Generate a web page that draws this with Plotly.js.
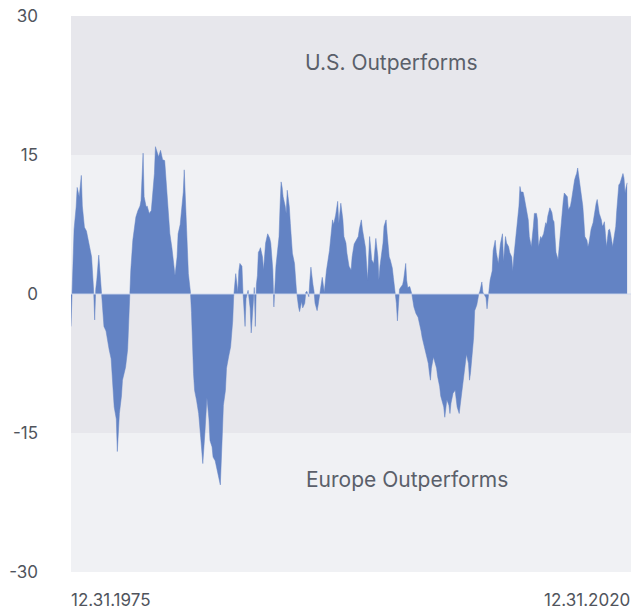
<!DOCTYPE html>
<html>
<head>
<meta charset="utf-8">
<script src="https://cdn.plot.ly/plotly-3.0.1.min.js"></script>
<style>html,body{margin:0;padding:0;background:#fff;}#chart{width:632px;height:612px;}</style>
</head>
<body>
<div id="chart"></div>
<script>
// Month-end observations (YYYY-MM) and relative performance, US vs Europe (%)
const dates = [
'1975-12','1976-01','1976-03','1976-05','1976-06','1976-08','1976-10','1976-11','1977-01','1977-03','1977-04','1977-06','1977-08','1977-10','1977-11','1977-12',
'1978-01','1978-03','1978-05','1978-06','1978-08','1978-10','1978-12','1979-01','1979-03','1979-04','1979-06','1979-08','1979-09','1979-11',
'1980-01','1980-02','1980-04','1980-05','1980-07','1980-09','1980-10','1980-12','1981-02','1981-03','1981-05','1981-07','1981-08','1981-10','1981-11',
'1982-01','1982-02','1982-04','1982-06','1982-07','1982-09','1982-10','1982-12','1983-01','1983-03','1983-05','1983-07','1983-09','1983-11','1983-12',
'1984-02','1984-03','1984-05','1984-07','1984-08','1984-10','1984-11','1985-01','1985-02','1985-03','1985-04','1985-05','1985-06','1985-08','1985-09','1985-11','1985-12',
'1986-02','1986-04','1986-06','1986-08','1986-10','1986-12','1987-02','1987-03','1987-05','1987-06','1987-08','1987-09','1987-11',
'1988-01','1988-03','1988-04','1988-06','1988-07','1988-09','1988-11','1989-01','1989-02','1989-04','1989-06','1989-07','1989-08','1989-10','1989-11',
'1990-01','1990-02','1990-04','1990-06','1990-07','1990-09','1990-10','1990-11','1990-12','1991-01','1991-02','1991-03','1991-04','1991-06','1991-07','1991-09','1991-10','1991-11',
'1992-01','1992-02','1992-04','1992-05','1992-07','1992-09','1992-10','1992-11','1992-12','1993-01','1993-02','1993-04','1993-05','1993-06','1993-08','1993-09','1993-11',
'1994-01','1994-03','1994-05','1994-06','1994-08','1994-09','1994-11','1994-12','1995-01','1995-03','1995-04','1995-05','1995-07','1995-08','1995-09','1995-11','1995-12',
'1996-02','1996-04','1996-06','1996-07','1996-08','1996-11','1996-12','1997-02','1997-03','1997-05','1997-07','1997-08','1997-10','1997-12',
'1998-01','1998-03','1998-04','1998-06','1998-08','1998-09','1998-11','1999-01','1999-03','1999-04','1999-06','1999-07','1999-09','1999-10','1999-12',
'2000-02','2000-03','2000-04','2000-06','2000-08','2000-10','2000-11','2000-12','2001-01','2001-03','2001-04','2001-06','2001-07','2001-08','2001-09','2001-10','2001-12',
'2002-01','2002-03','2002-04','2002-05','2002-06','2002-07','2002-08','2002-10','2002-11','2003-01','2003-02','2003-03','2003-05','2003-06','2003-07','2003-09','2003-11',
'2004-01','2004-03','2004-04','2004-05','2004-06','2004-07','2004-09','2004-11','2004-12','2005-01','2005-02','2005-04','2005-05','2005-07','2005-08','2005-10','2005-11','2005-12',
'2006-02','2006-03','2006-04','2006-05','2006-07','2006-08','2006-09','2006-11','2007-01','2007-03','2007-05','2007-06','2007-07','2007-09','2007-10','2007-12',
'2008-02','2008-03','2008-04','2008-05','2008-07','2008-08','2008-10','2008-12','2009-01','2009-03','2009-04','2009-06','2009-07','2009-08','2009-09','2009-10','2009-11',
'2010-01','2010-02','2010-04','2010-05','2010-07','2010-08','2010-09','2010-11','2010-12','2011-02','2011-03','2011-05','2011-06','2011-08','2011-09','2011-10','2011-11','2011-12',
'2012-01','2012-03','2012-04','2012-05','2012-07','2012-08','2012-09','2012-10','2012-12','2013-01','2013-02','2013-03','2013-05','2013-06','2013-08','2013-09','2013-10','2013-12',
'2014-01','2014-03','2014-05','2014-06','2014-07','2014-08','2014-09','2014-11','2014-12','2015-01','2015-02','2015-03','2015-05','2015-06','2015-07','2015-08','2015-09','2015-10','2015-11','2015-12',
'2016-02','2016-03','2016-05','2016-06','2016-07','2016-08','2016-09','2016-10','2016-11','2016-12','2017-01','2017-02','2017-03','2017-05','2017-06','2017-07','2017-09','2017-10','2017-11','2017-12',
'2018-01','2018-03','2018-04','2018-05','2018-06','2018-07','2018-08','2018-09','2018-11','2018-12','2019-01','2019-02','2019-03','2019-04','2019-05','2019-06','2019-07','2019-08','2019-10','2019-11',
'2020-01','2020-02','2020-03','2020-04','2020-05','2020-07','2020-08','2020-09','2020-10','2020-11','2020-12'
];
const values = [
-3.5,1.0,7.0,9.4,11.5,10.5,12.8,9.5,7.2,6.8,6.2,5.0,4.0,0.3,-2.8,0.5,
1.5,4.2,1.0,-0.5,-3.5,-4.0,-5.7,-6.0,-7.0,-8.5,-12.2,-13.5,-17.0,-12.9,
-11.0,-9.3,-8.5,-7.9,-6.0,-0.5,2.5,5.8,7.5,8.3,9.0,9.5,10.1,15.2,10.5,
9.4,9.5,8.7,9.0,10.5,13.0,15.9,15.2,14.8,15.5,14.5,14.4,11.2,9.0,6.5,
5.0,3.7,2.0,4.0,6.5,7.5,8.7,11.0,13.4,10.0,6.5,4.0,2.2,0.2,-2.0,-8.6,-10.4,
-11.5,-12.9,-15.5,-18.3,-15.0,-11.2,-13.5,-15.8,-16.5,-17.6,-18.0,-18.5,-19.4,
-20.6,-15.0,-12.0,-10.4,-8.0,-6.8,-5.7,-2.9,-0.3,2.2,0.2,2.5,3.3,3.0,0.2,
-3.5,-0.5,0.4,-1.5,-4.2,-1.0,0.7,-3.5,1.0,2.0,4.5,4.7,5.0,4.0,2.6,5.5,6.0,6.5,
6.0,5.5,2.6,-1.4,3.0,5.5,6.2,9.5,12.1,11.5,10.5,9.5,8.7,11.2,9.4,7.6,4.4,
3.3,0.3,-1.4,-1.9,-0.8,-1.5,-1.0,0.2,0.3,-0.3,1.5,2.9,1.0,0.3,-1.0,-1.8,-1.2,
0.2,1.8,0.2,1.5,2.5,4.7,6.0,8.0,7.5,8.5,10.0,7.6,9.8,8.0,
6.2,5.5,4.4,3.0,2.6,4.0,5.4,5.8,6.2,7.0,8.0,7.0,5.8,5.0,1.5,
6.2,5.0,3.7,3.3,6.0,4.0,1.5,3.0,4.0,5.5,7.3,8.0,6.5,4.7,4.0,3.7,2.8,
1.8,0.2,-1.0,-2.9,-0.5,0.5,0.7,1.0,1.5,3.3,1.5,0.7,0.8,0.5,0.0,-1.4,-2.1,
-2.5,-3.3,-4.0,-4.7,-5.2,-5.7,-6.5,-7.5,-8.5,-9.3,-8.0,-6.8,-7.2,-8.0,-8.9,-10.0,-11.0,-11.5,
-12.2,-13.3,-12.5,-11.4,-12.0,-12.9,-11.8,-10.7,-10.4,-12.2,-12.9,-12.0,-10.7,-9.0,-7.8,-6.5,
-7.5,-9.3,-8.5,-7.1,-4.7,-1.8,-1.2,0.0,0.3,1.3,0.2,-0.2,-0.4,-1.6,-0.5,0.0,1.5,
2.5,4.7,5.8,4.5,3.3,4.5,5.4,6.5,3.5,6.2,5.5,5.1,4.5,4.0,2.5,4.0,5.4,6.0,
7.3,9.5,11.6,11.0,11.0,10.5,9.8,9.5,8.0,6.2,5.5,5.1,7.3,8.7,8.7,8.0,5.1,6.2,
6.0,6.5,7.7,7.5,8.4,8.8,9.3,8.8,8.0,7.8,5.4,4.5,3.7,5.0,6.6,7.8,8.7,10.0,10.9,10.8,
10.5,9.1,9.5,10.1,11.0,11.9,12.3,12.7,13.0,13.6,12.8,12.3,11.0,9.5,8.0,6.2,5.8,5.1,5.5,6.2,
7.0,7.7,8.5,9.4,9.8,10.2,9.5,8.7,8.0,7.3,7.5,7.8,6.5,5.1,6.0,6.9,7.0,6.5,5.1,6.0,
7.3,9.0,11.2,11.8,11.9,12.5,13.0,12.5,10.9,11.5,12.0
];
const yTickVals = [-30, -15, 0, 15, 30];
const yTickText = ['-30', '-15', '0', '15', '30'];
const xTickDates = ['1975-12-31', '2020-12-31'];
const xTickText = ['12.31.1975', '12.31.2020'];
const bandEdges = [-30, -15, 0, 15, 30];
const regionLabels = ['U.S. Outperforms', 'Europe Outperforms'];
const regionLabelY = [25, -20];

const xs = dates.map(d => {
  const [y, m] = d.split('-').map(Number);
  const last = new Date(Date.UTC(y, m, 0)).getUTCDate();
  return d + '-' + String(last).padStart(2, '0');
});

const DARK = '#e7e7ec', LIGHT = '#f0f1f4';
const bandColors = [LIGHT, DARK, LIGHT, DARK];
const shapes = [];
for (let i = 0; i < bandEdges.length - 1; i++) {
  shapes.push({type: 'rect', xref: 'paper', yref: 'y', x0: 0, x1: 1,
    y0: bandEdges[i], y1: bandEdges[i + 1], fillcolor: bandColors[i],
    line: {width: 0}, layer: 'below'});
}
shapes.push({type: 'line', xref: 'paper', yref: 'y', x0: 0, x1: 1, y0: 0, y1: 0,
  line: {color: 'rgba(205,215,238,0.9)', width: 1}, layer: 'above'});

const font = 'Inter, "Open Sans", "Liberation Sans", sans-serif';
const annotations = [
  {xref: 'paper', yref: 'y', x: 0.414, y: regionLabelY[0], xanchor: 'left', yanchor: 'middle',
   text: regionLabels[0], showarrow: false, font: {family: font, size: 21, color: '#5a5f6a'}},
  {xref: 'paper', yref: 'y', x: 0.416, y: regionLabelY[1], xanchor: 'left', yanchor: 'middle',
   text: regionLabels[1], showarrow: false, font: {family: font, size: 21, color: '#5a5f6a'}},
  {xref: 'x', yref: 'paper', x: xTickDates[0], y: -0.0695, xanchor: 'left', yanchor: 'bottom', xshift: -1,
   borderpad: 0, text: xTickText[0], showarrow: false, font: {family: font, size: 17, color: '#50545c'}},
  {xref: 'paper', yref: 'paper', x: 1.0, y: -0.0695, xanchor: 'right', yanchor: 'bottom', xshift: 0,
   borderpad: 0, text: xTickText[1], showarrow: false, font: {family: font, size: 17, color: '#50545c'}}
];

const trace = {
  x: xs, y: values, type: 'scatter', mode: 'lines',
  fill: 'tozeroy', fillcolor: '#6383c4',
  line: {color: '#6383c4', width: 0.5, shape: 'linear'},
  hoverinfo: 'skip'
};

const layout = {
  width: 632, height: 612,
  margin: {l: 71, r: 1, t: 16, b: 40},
  paper_bgcolor: '#ffffff', plot_bgcolor: '#ffffff',
  showlegend: false,
  xaxis: {type: 'date', range: ['1975-12-31', '2021-04-25'], showgrid: false, zeroline: false,
          showline: false, showticklabels: false, ticks: ''},
  yaxis: {range: [-30, 30], tickvals: yTickVals, ticktext: yTickText, showgrid: false,
          zeroline: false, showline: false, ticks: '', ticklabelstandoff: 32,
          tickfont: {family: font, size: 17, color: '#50545c'}},
  shapes: shapes,
  annotations: annotations
};

Plotly.newPlot('chart', [trace], layout, {displayModeBar: false, staticPlot: true});
</script>
</body>
</html>
